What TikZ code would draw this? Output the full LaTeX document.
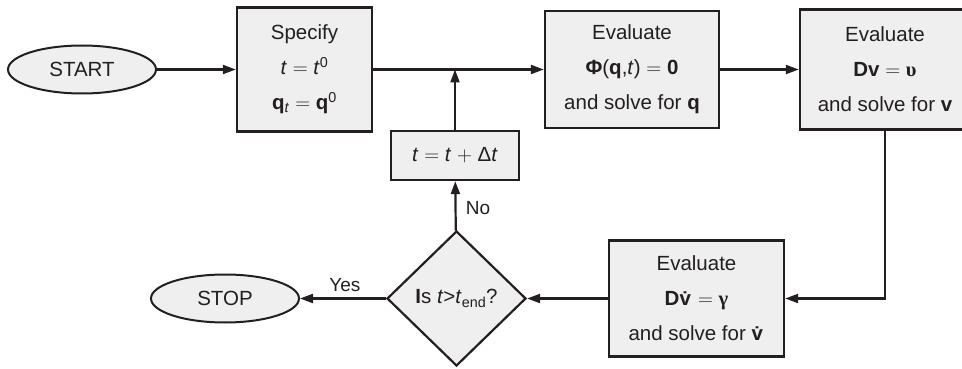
\documentclass[tikz,border=0pt]{standalone}
\usepackage{fontspec}
\setmainfont{Liberation Sans}
\newfontfamily\serifgreek{Liberation Serif}
\usetikzlibrary{shapes.geometric,arrows.meta}
\definecolor{boxfill}{HTML}{EFEFEF}
\definecolor{ink}{HTML}{231F20}
\begin{document}
\begin{tikzpicture}[x=1pt,y=-1pt,
  font=\fontsize{20.5}{35}\selectfont,
  box/.style={draw=ink, line width=2.4pt, fill=boxfill, rectangle, inner sep=0pt, align=center, text=ink},
  term/.style={draw=ink, line width=2pt, fill=boxfill, ellipse, inner sep=0pt, minimum width=148pt, minimum height=48pt, text=ink},
  decision/.style={draw=ink, line width=2.2pt, fill=boxfill, diamond, inner sep=0pt, minimum width=139pt, minimum height=135pt, text=ink},
  flow/.style={draw=ink, line width=2.2pt, -{Triangle[length=13pt,width=9pt]}},
  lbl/.style={font=\fontsize{19}{22}\selectfont, text=ink}]
\useasboundingbox (0,0) rectangle (962,369);
\clip (0,0) rectangle (962,369);
\node[term] (start) at (82,69.5) {START};
\node[box, minimum width=135pt, minimum height=124pt] (spec) at (304.5,69.5)
  {Specify\\ \textit{t} $=$ \textit{t}\textsuperscript{0}\\ \textbf{q}\textsubscript{\textit{t}} $=$ \textbf{q}\textsuperscript{0}};
\node[box, minimum width=174pt, minimum height=117pt] (eval1) at (632,69.5)
  {Evaluate\\ \textbf{Φ}(\textbf{q},\textit{t}) $=$ \textbf{0}\\ and solve for \textbf{q}};
\node[box, minimum width=170pt, minimum height=120pt] (eval2) at (885,69.5)
  {Evaluate\\ \textbf{Dv} $=$ {\serifgreek\bfseries υ}\\ and solve for \textbf{v}};
\node[box, minimum width=128pt, minimum height=49pt] (tbox) at (455,155.5)
  {\textit{t} $=$ \textit{t} $+$ Δ\textit{t}};
\node[box, minimum width=175pt, minimum height=116pt] (eval3) at (696.5,298.5)
  {Evaluate\\ \textbf{D\.{v}} $=$ {\serifgreek\bfseries γ}\\ and solve for \textbf{\.{v}}};
\node[decision] (dia) at (456.5,298.5) {\textbf{I}s \textit{t}>\textit{t}\textsubscript{end}?};
\node[term] (stop) at (225,298.5) {STOP};
\coordinate (j) at (tbox.north |- spec.east);
\draw[flow] (start) -- (spec);
\draw[flow] (spec) -- (eval1);
\draw[flow] (tbox) -- (j);
\draw[flow] (eval1) -- (eval2);
\draw[flow] (eval2.south) |- (eval3.east);
\draw[flow] (eval3) -- (dia);
\draw[flow] (dia) -- (stop) node[lbl, midway, above=2pt, xshift=2pt] {Yes};
\draw[flow] (dia) -- (tbox) node[lbl, pos=0.45, right=6pt] {No};
\end{tikzpicture}
\end{document}
